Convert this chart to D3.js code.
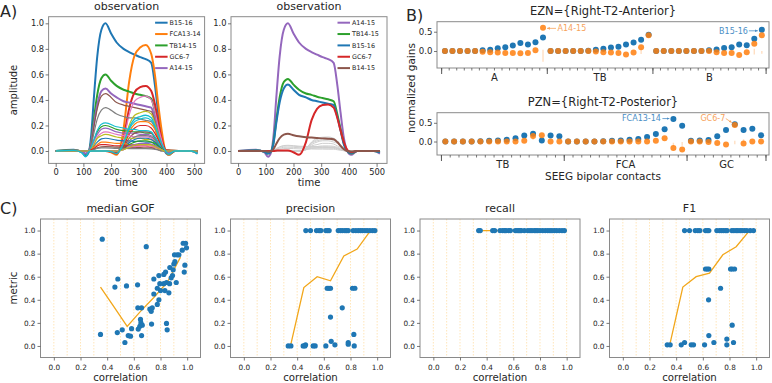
<!DOCTYPE html>
<html><head><meta charset="utf-8">
<script src="https://cdn.jsdelivr.net/npm/d3@7/dist/d3.min.js"></script>
<style>
html,body{margin:0;padding:0;background:#fff;}
svg{display:block;}
text{font-family:"DejaVu Sans",sans-serif;fill:#262626;}
</style></head><body>
<svg id="fig" width="772" height="383" viewBox="0 0 772 383"></svg>
<script>
// ================= DATA =================
// ---- Panel A: observation time courses ----
const timeMain = [0,65,95,108,120,128,138,150,165,180,200,220,245,265,285,305,325,345,358,370,382,394,408,430,490,512];
const timeBg   = [0,120,128,138,150,165,180,220,245,265,285,305,325,345,358,370,382,394,512];
const timeTicks = [0,100,200,300,400,500];
const ampTicks = [0,0.2,0.4,0.6,0.8,1.0];

const leftNames = ["B15-16","FCA13-14","TB14-15","GC6-7","A14-15"];
const leftB1516  = [0,0.01,-0.01,-0.04,-0.005,0.12,0.42,0.74,0.95,1.0,0.92,0.85,0.80,0.775,0.755,0.735,0.72,0.69,0.52,0.3,0.1,0.0,-0.03,0,0,-0.02];
const leftFCA1314= [0,0.004,0,0,0,0,0,0,0,0,-0.01,-0.03,0.17,0.54,0.75,0.81,0.83,0.76,0.6,0.37,0.17,0.02,-0.03,0,0,-0.01];
const leftTB1415 = [0,0.006,-0.006,-0.024,0,0.07,0.25,0.44,0.57,0.6,0.55,0.51,0.48,0.465,0.45,0.44,0.43,0.41,0.31,0.18,0.06,0,-0.02,0,0,-0.01];
const leftGC67   = [0,0,0,0,0,0,0,0,0,0,-0.005,-0.02,0.1,0.33,0.46,0.5,0.51,0.47,0.37,0.23,0.1,0.015,-0.02,0,0,0];
const leftA1415  = [0,0.005,-0.005,-0.02,0,0.06,0.21,0.36,0.47,0.49,0.45,0.42,0.39,0.38,0.37,0.36,0.35,0.34,0.25,0.15,0.05,0,-0.015,0,0,-0.01];
const leftOther = [
 [0,0,0.05,0.19,0.33,0.43,0.45,0.38,0.36,0.35,0.34,0.33,0.32,0.31,0.23,0.14,0.05,0,0],
 [0,0,0,0,0,0,0,-0.01,0.09,0.28,0.39,0.42,0.43,0.40,0.31,0.19,0.09,0.01,0],
 [0,0,0.04,0.14,0.25,0.32,0.34,0.29,0.27,0.26,0.26,0.25,0.24,0.23,0.18,0.10,0.03,0,0],
 [0,0,0,0,0,0,0,-0.01,0.06,0.20,0.28,0.30,0.31,0.29,0.22,0.14,0.06,0.01,0],
 [0,0,0,0,0,0,0,-0.01,0.05,0.17,0.23,0.25,0.26,0.24,0.19,0.12,0.05,0.01,0],
 [0,0,0.01,0.04,0.07,0.095,0.10,0.085,0.08,0.08,0.075,0.075,0.07,0.07,0.05,0.03,0.01,0,0],
 [0,0,0,0,0,0,0,-0.01,0.05,0.15,0.21,0.23,0.23,0.21,0.17,0.10,0.05,0.01,0],
 [0,0,0.02,0.08,0.15,0.19,0.20,0.17,0.16,0.155,0.15,0.15,0.14,0.14,0.10,0.06,0.02,0,0],
 [0,0,0,0,0,0,0,-0.01,0.04,0.13,0.18,0.20,0.20,0.18,0.14,0.09,0.04,0.01,0],
 [0,0,0.02,0.08,0.13,0.17,0.18,0.15,0.14,0.14,0.14,0.13,0.13,0.12,0.09,0.05,0.02,0,0],
 [0,0,0,0,0,0,0,0,0.03,0.10,0.14,0.15,0.15,0.14,0.11,0.07,0.03,0,0],
 [0,0,0.02,0.06,0.11,0.14,0.15,0.13,0.12,0.12,0.11,0.11,0.11,0.10,0.08,0.05,0.02,0,0],
 [0,0,0,0,0,0,0,0,0.02,0.08,0.11,0.12,0.12,0.11,0.09,0.05,0.02,0,0],
 [0,0,0.02,0.05,0.10,0.12,0.13,0.11,0.10,0.10,0.10,0.10,0.09,0.09,0.07,0.04,0.01,0,0],
 [0,0,0.03,0.09,0.16,0.21,0.22,0.19,0.18,0.17,0.17,0.16,0.16,0.15,0.11,0.07,0.02,0,0],
 [0,0,0,0,0,0,0,0,0.02,0.065,0.09,0.10,0.10,0.09,0.07,0.045,0.02,0,0],
 [0,0,0.01,0.03,0.05,0.07,0.07,0.06,0.06,0.05,0.05,0.05,0.05,0.05,0.04,0.02,0.01,0,0],
 [0,0,0,0,0,0,0,0,0.02,0.05,0.07,0.08,0.08,0.07,0.06,0.04,0.02,0,0],
 [0,0,0.01,0.02,0.04,0.05,0.05,0.04,0.04,0.04,0.04,0.04,0.04,0.03,0.03,0.02,0.01,0,0],
 [0,0,0,0,0,0,0,0,0.01,0.04,0.05,0.06,0.06,0.055,0.04,0.03,0.01,0,0],
 [0,0,0,0.015,0.026,0.033,0.035,0.03,0.028,0.027,0.026,0.026,0.025,0.024,0.018,0.01,0,0,0],
 [0,0,0,0,0,0,0,0,0.01,0.03,0.035,0.04,0.04,0.037,0.03,0.02,0.01,0,0],
 [0,0,0,0.01,0.02,0.024,0.025,0.021,0.02,0.019,0.019,0.018,0.018,0.017,0.013,0.008,0,0,0],
 [0,0,0,0,0,0,0,0,0.01,0.03,0.045,0.05,0.05,0.046,0.036,0.022,0.01,0,0]
];
const leftLastCyan = [0,0.005,-0.015,-0.045,-0.005,0,0,0,0,0,-0.005,-0.02,0.06,0.18,0.25,0.27,0.28,0.26,0.2,0.13,0.06,0.01,-0.025,0,0,-0.02];

const rightNames = ["A14-15","TB14-15","B15-16","GC6-7","B14-15"];
const rightA1415 = [0,0.01,-0.01,-0.045,-0.005,0.12,0.42,0.74,0.95,1.0,0.92,0.85,0.80,0.775,0.755,0.735,0.72,0.69,0.52,0.3,0.1,0.0,-0.03,0,0,-0.02];
const rightTB1415= [0,0.005,-0.005,-0.02,0,0.07,0.24,0.42,0.54,0.565,0.52,0.48,0.45,0.44,0.425,0.415,0.405,0.39,0.29,0.17,0.06,0,-0.02,0,0,-0.01];
const rightB1516 = [0,0.005,-0.005,-0.02,0,0.06,0.22,0.38,0.49,0.52,0.48,0.44,0.42,0.40,0.39,0.38,0.37,0.36,0.27,0.16,0.05,0,-0.015,0,0,-0.01];
const rightGC67  = [0,0,0,0,0,0,0.003,0.005,0.005,0.005,-0.01,-0.03,0.07,0.24,0.33,0.36,0.365,0.34,0.26,0.16,0.07,0.01,-0.01,0,0,0];
const rightB1415 = [0,0,0,-0.005,0,0.016,0.057,0.1,0.128,0.135,0.124,0.115,0.108,0.105,0.102,0.099,0.097,0.093,0.07,0.04,0.014,0,-0.004,0,0,0];
const rightOther = [
 [0,0,0.005,0.02,0.033,0.043,0.045,0.038,0.036,0.035,0.034,0.033,0.032,0.031,0.023,0.014,0.005,0,0],
 [0,0,0.005,0.017,0.03,0.038,0.04,0.034,0.032,0.031,0.03,0.029,0.029,0.028,0.021,0.012,0.004,0,0],
 [0,0,0.004,0.013,0.022,0.029,0.03,0.026,0.024,0.023,0.023,0.022,0.022,0.021,0.016,0.009,0.003,0,0],
 [0,0,0.003,0.009,0.015,0.019,0.02,0.017,0.016,0.016,0.015,0.015,0.014,0.014,0.01,0.006,0.002,0,0],
 [0,0,0,0,0,0,0,0,0.02,0.07,0.1,0.108,0.11,0.1,0.08,0.05,0.02,0,0],
 [0,0,0,0,0,0,0,0,0.02,0.065,0.09,0.10,0.10,0.09,0.07,0.045,0.02,0,0],
 [0,0,0,0,0,0,0,0,0.02,0.06,0.08,0.088,0.09,0.083,0.065,0.04,0.018,0,0],
 [0,0,0,0,0,0,0,0,0.02,0.05,0.07,0.08,0.08,0.07,0.06,0.04,0.02,0,0],
 [0,0,0,0,0,0,0,0,0.01,0.04,0.05,0.06,0.06,0.055,0.04,0.03,0.01,0,0],
 [0,0,0,0,0,0,0,0,0.01,0.03,0.035,0.04,0.04,0.037,0.03,0.02,0.01,0,0],
 [0,0,0,0,0,0,0,0,0.01,0.02,0.025,0.03,0.03,0.028,0.02,0.015,0.005,0,0]
];

// ---- Panel B: normalized gains ----
const ezGroups = ["A","TB","B"];
const ezGroupSizes = [14,14,15];
const ezBlue = [0,0,0,0,0,0.02,0.03,0.07,0.10,0.14,0.21,0.17,0.23,0.35,
                0,0,0,0,0,0.01,0.03,0.06,0.09,0.11,0.17,0.22,0.29,0.42,
                0,0,0,0,0,0,0,0.02,0.04,0.08,0.10,0.17,0.15,0.32,0.55];
const ezOrange = [0,0,0,0,0,-0.02,-0.03,-0.04,-0.05,-0.05,-0.06,-0.05,0.02,0.6,
                  0,0,0,0,0,0,-0.01,-0.03,-0.04,-0.05,-0.09,-0.04,0.1,0.41,
                  0,0,0,0,0,0,0,0,-0.03,-0.05,-0.05,-0.1,-0.03,0.19,0.41];
const ezSpreadIdx = [13,14,26,28,41,42];
const ezSpreadLo  = [-0.28,-0.03,-0.08,-0.04,-0.09,-0.07];
const ezSpreadHi  = [0.03,0.03,0.08,0.03,0.06,0.0];

const pzGroups = ["TB","FCA","GC"];
const pzGroupSizes = [14,14,9];
const pzBlue = [0,0,0,0,0.01,0.02,0.03,0.05,0.09,0.16,0.21,0.03,0.16,0.14,
                0,0,0,0,0.01,0.02,0.03,0.045,0.065,0.12,0.2,0.33,0.6,0.42,
                0.02,0.03,0.04,0.14,0.31,0.46,0.31,0.34,0.17];
const pzOrange = [0,0,0,0,0,0,0,0,0,0.02,0.15,0.17,0,0,
                  0,0,0,0,0,0,0,0,0,0,0.02,0.09,-0.17,-0.21,
                  0,0,-0.01,-0.04,-0.08,0.44,-0.05,0,0];
const pzSpreadIdx = [10,26,27,33,34];
const pzSpreadLo  = [0.04,-0.13,-0.11,-0.07,-0.02];
const pzSpreadHi  = [0.12,-0.03,-0.01,0.02,0.06];

// ---- Panel C: metrics vs correlation ----
const corrTicks = [0,0.2,0.4,0.6,0.8,1.0];
const corrGrid = [0,0.1,0.2,0.3,0.4,0.5,0.6,0.7,0.8,0.9,1.0];
const metricTicks = [0,0.2,0.4,0.6,0.8,1.0];
const binCenters = [0.35,0.45,0.55,0.65,0.75,0.85,0.95];

const gofCorr = [0.363,0.35,0.458,0.48,0.545,0.476,0.513,0.533,0.558,0.575,0.583,0.628,0.63,0.658,0.633,0.645,0.65,0.653,0.663,0.658,0.693,0.72,0.73,0.738,0.733,0.75,0.75,0.776,0.776,0.788,0.788,0.795,0.8,0.825,0.825,0.833,0.838,0.845,0.85,0.845,0.863,0.868,0.87,0.88,0.89,0.895,0.9,0.905,0.908,0.918,0.925,0.938,0.963,0.97,0.988,0.995,0.983,0.978];
const gofVal  = [0.925,0.10,0.51,0.58,0.52,0.116,0.14,0.03,0.09,0.085,0.15,0.53,0.33,0.33,0.146,0.17,0.23,0.2,0.18,0.09,0.86,0.32,0.30,0.33,0.19,0.58,0.45,0.50,0.36,0.40,0.61,0.54,0.48,0.62,0.54,0.48,0.64,0.195,0.14,0.55,0.46,0.54,0.68,0.59,0.61,0.66,0.71,0.79,0.73,0.55,0.79,0.79,0.83,0.89,0.89,0.85,0.70,0.64];
const gofMedian = [0.51,0.34,0.17,0.30,0.42,0.55,0.77];

const precisionCorr = [0.465,0.5,0.545,0.565,0.578,0.615,0.628,0.64,0.708,0.725,0.74,0.758,0.77,0.783,0.82,0.84,0.858,0.875,0.89,0.908,0.925,0.945,0.965,0.983,
  0.625,0.638,0.65,0.815,0.833,0.738,0.65,0.825,0.655,0.783,0.683,0.463,0.783,0.333,0.353,0.445,0.458,0.52,0.535,0.615,0.828];
const precisionVal = [1,1,1,1,1,1,1,1,1,1,1,1,1,1,1,1,1,1,1,1,1,1,1,1,
  0.5,0.5,0.5,0.5,0.5,0.33,0.25,0.1,0.04,0.03,0.01,0.01,0.015,0,0,0,0,0,0,0,0];
const precisionMedian = [0.0,0.506,0.60,0.565,0.78,0.84,1.0];

const recallCorr = [0.34,0.352,0.445,0.46,0.5,0.52,0.535,0.545,0.565,0.578,0.615,0.628,0.64,0.65,0.66,0.683,0.708,0.725,0.74,0.758,0.77,0.783,0.8,0.82,0.84,0.858,0.875,0.89,0.908,0.925,0.945,0.965,0.983];
const recallVal  = [1,1,1,1,1,1,1,1,1,1,1,1,1,1,1,1,1,1,1,1,1,1,1,1,1,1,1,1,1,1,1,1,1];
const recallMedian = [1,1,1,1,1,1,1];

const f1Corr = [0.463,0.5,0.543,0.563,0.578,0.62,0.633,0.645,0.705,0.725,0.74,0.755,0.77,0.782,0.818,0.833,0.85,0.863,0.88,0.895,0.913,0.93,0.955,0.98,
  0.62,0.633,0.645,0.808,0.82,0.838,0.733,0.643,0.82,0.645,0.78,0.463,0.683,0.83,0.333,0.355,0.438,0.513,0.53,0.613,0.78];
const f1Val = [1,1,1,1,1,1,1,1,1,1,1,1,1,1,1,1,1,1,1,1,1,1,1,1,
  0.667,0.667,0.667,0.667,0.667,0.667,0.5,0.4,0.18,0.09,0.06,0.03,0.03,0.03,0.01,0.01,0.01,0.01,0.01,0.01,0.01];
const f1Median = [0.0,0.51,0.60,0.63,0.79,0.86,1.0];

// ================= DRAWING =================
const svg = d3.select("#fig");
const tab10 = d3.schemeCategory10;
const FRAME = "#8a8a8a";
const FONT = '"DejaVu Sans",sans-serif';
let clipN = 0;

function frame(x0,y0,x1,y1){
  svg.append("rect").attr("x",x0).attr("y",y0).attr("width",x1-x0).attr("height",y1-y0)
    .attr("fill","none").attr("stroke",FRAME).attr("stroke-width",1);
}
function clip(x0,y0,x1,y1){
  const id = "clip"+(clipN++);
  svg.append("clipPath").attr("id",id).append("rect").attr("x",x0).attr("y",y0).attr("width",x1-x0).attr("height",y1-y0);
  return "url(#"+id+")";
}
function styleAxis(g, fs){
  g.attr("font-family",null).attr("font-size",null);
  g.select(".domain").remove();
  g.selectAll(".tick line").attr("stroke","#555").attr("stroke-width",0.8);
  g.selectAll(".tick text").attr("font-size",fs).attr("fill","#262626").attr("font-family",FONT);
}
function text(x,y,s,fs,opts={}){
  const t = svg.append("text").attr("x",x).attr("y",y).attr("font-size",fs).text(s);
  if(opts.anchor) t.attr("text-anchor",opts.anchor);
  if(opts.fill) t.attr("fill",opts.fill).style("fill",opts.fill);
  if(opts.rotate) t.attr("transform",`rotate(-90,${x},${y})`);
  return t;
}

// ---------- Panel A ----------
const timeDomain = [-25.6,537.6];
const ampDomain = [-0.097,1.052];
function panelA(box, series, legend){
  const x = d3.scaleLinear().domain(timeDomain).range([box.x0,box.x1]);
  const y = d3.scaleLinear().domain(ampDomain).range([box.y1,box.y0]);
  const line = d3.line().x(d=>x(d[0])).y(d=>y(d[1])).curve(d3.curveMonotoneX);
  const g = svg.append("g").attr("clip-path",clip(box.x0,box.y0,box.x1,box.y1));
  series.forEach(s=>{
    g.append("path").attr("d",line(d3.zip(s.t,s.v))).attr("fill","none")
      .attr("stroke",s.color).attr("stroke-width",s.w).attr("stroke-linejoin","round");
  });
  frame(box.x0,box.y0,box.x1,box.y1);
  const gx = svg.append("g").attr("transform",`translate(0,${box.y1})`)
    .call(d3.axisBottom(x).tickValues(timeTicks).tickSize(3.5).tickPadding(2).tickFormat(d3.format("d")));
  styleAxis(gx,8.3);
  const gy = svg.append("g").attr("transform",`translate(${box.x0},0)`)
    .call(d3.axisLeft(y).tickValues(ampTicks).tickSize(3).tickPadding(1.5).tickFormat(d3.format(".1f")));
  styleAxis(gy,8.3);
  text((box.x0+box.x1)/2, 10, "observation", 11, {anchor:"middle"});
  text((box.x0+box.x1)/2, 186, "time", 10, {anchor:"middle"});
  legend.forEach((L,i)=>{
    const yy = 22.7 + i*11.35;
    svg.append("line").attr("x1",box.x1-49.5).attr("x2",box.x1-37).attr("y1",yy).attr("y2",yy)
      .attr("stroke",L.color).attr("stroke-width",2);
    text(box.x1-35, yy+2.3, L.name, 6.4);
  });
}

const boxAL = {x0:48.6,x1:204.6,y0:16.7,y1:163.4};
const boxAR = {x0:231,x1:387,y0:16.7,y1:163.4};

const leftMain = [leftB1516,leftFCA1314,leftTB1415,leftGC67,leftA1415];
const leftSeries = [];
leftMain.forEach((v,i)=>leftSeries.push({t:timeMain,v:v,color:tab10[i],w:2}));
leftOther.forEach((v,j)=>leftSeries.push({t:timeBg,v:v,color:tab10[(5+j)%10],w:1.2}));
leftSeries.push({t:timeMain,v:leftLastCyan,color:tab10[(5+leftOther.length)%10],w:1.4});
panelA(boxAL, leftSeries, leftNames.map((n,i)=>({name:n,color:tab10[i]})));

const rightColors = [tab10[4],tab10[2],tab10[0],tab10[3],tab10[5]];
const rightMain = [rightA1415,rightTB1415,rightB1516,rightGC67,rightB1415];
const rightSeries = [];
rightOther.forEach(v=>rightSeries.push({t:timeBg,v:v,color:"#cfcfcf",w:1}));
rightMain.forEach((v,i)=>rightSeries.push({t:timeMain,v:v,color:rightColors[i],w:2}));
panelA(boxAR, rightSeries, rightNames.map((n,i)=>({name:n,color:rightColors[i]})));

text(17, 90, "amplitude", 10, {anchor:"middle", rotate:true});
text(0, 16.5, "A)", 16);

// ---------- Panel B ----------
const defs = svg.append("defs");
function marker(id,color){
  defs.append("marker").attr("id",id).attr("viewBox","0 0 10 10").attr("refX",9).attr("refY",5)
    .attr("markerWidth",4).attr("markerHeight",4).attr("orient","auto")
    .append("path").attr("d","M0,1 L9,5 L0,9 Z").attr("fill",color);
}
const annBlue = "#4c8fc6", annOrange = "#f7a35c";
marker("arB",annBlue); marker("arO",annOrange);

function panelB(cfg){
  const x = d3.scaleLinear().domain(cfg.xdom).range([437,769]);
  const y = d3.scaleLinear().domain(cfg.ydom).range([cfg.y1,cfg.y0]);
  const n = cfg.blue.length;
  const bounds = [-0.5]; const centers = [];
  let acc = 0;
  cfg.sizes.forEach(s=>{ centers.push(acc + (s-1)/2); acc += s; bounds.push(acc-0.5); });
  const minor = d3.range(-0.5, n, 1);
  const g = svg.append("g").attr("clip-path",clip(437,cfg.y0,769,cfg.y1));
  cfg.sIdx.forEach((k,i)=>{
    g.append("line").attr("x1",x(k)).attr("x2",x(k)).attr("y1",y(cfg.sLo[i])).attr("y2",y(cfg.sHi[i]))
      .attr("stroke","#ff7f0e").attr("stroke-opacity",0.25).attr("stroke-width",1.4);
  });
  g.selectAll(null).data(cfg.blue).enter().append("circle")
    .attr("cx",(d,i)=>x(i)).attr("cy",d=>y(d)).attr("r",3).attr("fill",tab10[0]);
  g.selectAll(null).data(cfg.orange).enter().append("circle")
    .attr("cx",(d,i)=>x(i)).attr("cy",d=>y(d)).attr("r",3).attr("fill",tab10[1]).attr("fill-opacity",0.85);
  frame(437,cfg.y0,769,cfg.y1);
  const gy = svg.append("g").attr("transform","translate(437,0)")
    .call(d3.axisLeft(y).tickValues([0,0.5]).tickSize(3).tickPadding(1.5).tickFormat(d3.format(".1f")));
  styleAxis(gy,8.6);
  const gm = svg.append("g").attr("transform",`translate(0,${cfg.y1})`)
    .call(d3.axisBottom(x).tickValues(minor).tickSize(2.5).tickFormat(""));
  styleAxis(gm,9);
  const gM = svg.append("g").attr("transform",`translate(0,${cfg.y1})`)
    .call(d3.axisBottom(x).tickValues(bounds).tickSize(6).tickFormat(""));
  styleAxis(gM,9);
  gM.selectAll(".tick line").attr("stroke-width",1);
  const gl = svg.append("g").attr("transform",`translate(0,${cfg.y1})`)
    .call(d3.axisBottom(x).tickValues(centers).tickSize(0).tickPadding(6).tickFormat((d,i)=>cfg.groups[i]));
  styleAxis(gl,10);
  text(603, cfg.titleY, cfg.title, 11.5, {anchor:"middle"});
  cfg.ann.forEach(a=>{
    const px = x(a.idx), py = y(a.val);
    const col = a.color;
    svg.append("line").attr("x1",px+a.ax1).attr("y1",py+a.ay1).attr("x2",px+a.ax2).attr("y2",py+a.ay2)
      .attr("stroke",col).attr("stroke-width",0.8).attr("marker-end",`url(#${a.mk})`);
    text(px+a.tx, py+a.ty, a.label, 8, {anchor:a.anchor, fill:col});
  });
}

panelB({title:"EZN={Right-T2-Anterior}", titleY:15, xdom:[-1.05,42.95], ydom:[-0.44,0.76], y0:21.7, y1:68,
  groups:ezGroups, sizes:ezGroupSizes, blue:ezBlue, orange:ezOrange,
  sIdx:ezSpreadIdx, sLo:ezSpreadLo, sHi:ezSpreadHi,
  ann:[{idx:13,val:ezOrange[13],color:annOrange,mk:"arO",ax1:13,ay1:0.5,ax2:4,ay2:0.5,tx:14.5,ty:3.3,label:"A14-15",anchor:"start"},
       {idx:42,val:ezBlue[42],color:annBlue,mk:"arB",ax1:-13,ay1:1,ax2:-4,ay2:1,tx:-14,ty:3.8,label:"B15-16",anchor:"end"}]});
panelB({title:"PZN={Right-T2-Posterior}", titleY:105.5, xdom:[-0.95,36.9], ydom:[-0.36,0.77], y0:112.7, y1:155,
  groups:pzGroups, sizes:pzGroupSizes, blue:pzBlue, orange:pzOrange,
  sIdx:pzSpreadIdx, sLo:pzSpreadLo, sHi:pzSpreadHi,
  ann:[{idx:26,val:pzBlue[26],color:annBlue,mk:"arB",ax1:-11,ay1:-0.5,ax2:-4,ay2:-0.5,tx:-12.5,ty:2.3,label:"FCA13-14",anchor:"end"},
       {idx:33,val:pzOrange[33],color:annOrange,mk:"arO",ax1:-9,ay1:-6.5,ax2:-3,ay2:-2.5,tx:-9.5,ty:-4,label:"GC6-7",anchor:"end"}]});

text(415, 88, "normalized gains", 10.5, {anchor:"middle", rotate:true});
text(603, 179.5, "SEEG bipolar contacts", 10.5, {anchor:"middle"});
text(406, 20.5, "B)", 16);

// ---------- Panel C ----------
const corrDomain = [-0.1,1.1], metricDomain = [-0.1,1.1];
const cLefts = [40.5,230.5,420,609.5];
const cPanels = [
  {title:"median GOF", corr:gofCorr, val:gofVal, med:gofMedian},
  {title:"precision", corr:precisionCorr, val:precisionVal, med:precisionMedian},
  {title:"recall", corr:recallCorr, val:recallVal, med:recallMedian},
  {title:"F1", corr:f1Corr, val:f1Val, med:f1Median}];
const cy0 = 219, cy1 = 357.5;
cPanels.forEach((p,k)=>{
  const x0 = cLefts[k], x1 = x0+160;
  const x = d3.scaleLinear().domain(corrDomain).range([x0,x1]);
  const y = d3.scaleLinear().domain(metricDomain).range([cy1,cy0]);
  const g = svg.append("g").attr("clip-path",clip(x0,cy0,x1,cy1));
  g.selectAll(null).data(corrGrid).enter().append("line")
    .attr("x1",d=>x(d)).attr("x2",d=>x(d)).attr("y1",cy0).attr("y2",cy1)
    .attr("stroke","#ffa500").attr("stroke-opacity",0.35).attr("stroke-width",0.8).attr("stroke-dasharray","1.5,1.5");
  const line = d3.line().x(d=>x(d[0])).y(d=>y(d[1]));
  g.append("path").attr("d",line(d3.zip(binCenters,p.med))).attr("fill","none")
    .attr("stroke","#f2a71b").attr("stroke-width",1.3);
  g.selectAll(null).data(d3.zip(p.corr,p.val)).enter().append("circle")
    .attr("cx",d=>x(d[0])).attr("cy",d=>y(d[1])).attr("r",2.6).attr("fill",tab10[0]);
  frame(x0,cy0,x1,cy1);
  const gx = svg.append("g").attr("transform",`translate(0,${cy1})`)
    .call(d3.axisBottom(x).tickValues(corrTicks).tickSize(3).tickPadding(4).tickFormat(d3.format(".1f")));
  styleAxis(gx,7.3);
  const gy = svg.append("g").attr("transform",`translate(${x0},0)`)
    .call(d3.axisLeft(y).tickValues(metricTicks).tickSize(3).tickPadding(2).tickFormat(d3.format(".1f")));
  styleAxis(gy,7.3);
  text((x0+x1)/2, 212, p.title, 11, {anchor:"middle"});
  text((x0+x1)/2, 381, "correlation", 10.2, {anchor:"middle"});
});
text(16.5, 288, "metric", 10.2, {anchor:"middle", rotate:true});
text(0, 214, "C)", 16);
</script></body></html>
